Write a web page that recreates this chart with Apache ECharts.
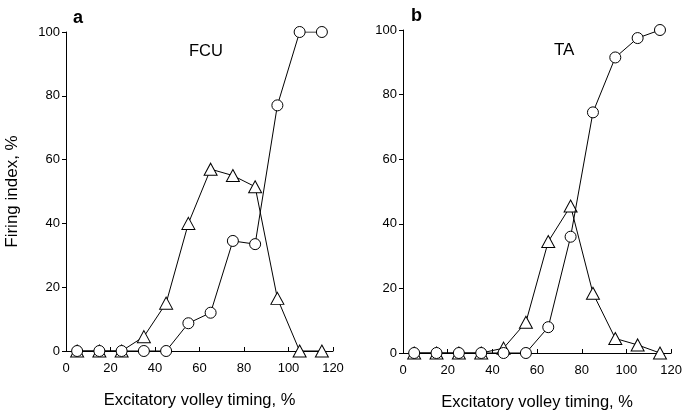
<!DOCTYPE html>
<html>
<head>
<meta charset="utf-8">
<script src="https://cdn.jsdelivr.net/npm/echarts@6/dist/echarts.min.js"></script>
<style>html,body{margin:0;padding:0;background:#fff}#c{width:685px;height:417px}</style>
</head>
<body>
<div id="c"></div>
<script>
var timing = [5, 15, 25, 35, 45, 55, 65, 75, 85, 95, 105, 115];
var fcuCircles = [0, 0, 0, 0, 0, 8.7, 12, 34.5, 33.5, 77, 100, 100];
var fcuTriangles = [0, 0, 0, 4.5, 15, 40, 57, 55, 51.5, 16.5, 0, 0];
var taCircles = [0, 0, 0, 0, 0, 0, 8, 36, 74.5, 91.5, 97.5, 100];
var taTriangles = [0, 0, 0, 0, 1.5, 9.5, 34.5, 45.5, 18.5, 4.5, 2.5, 0];
var xTicks = [0, 20, 40, 60, 80, 100, 120];
var yTicks = [0, 20, 40, 60, 80, 100];

function pairs(xs, ys) { return xs.map(function (x, i) { return [x, ys[i]]; }); }

var FONT = 'Liberation Sans, Arial, sans-serif';
var axisLine = { show: true, onZero: false, lineStyle: { color: '#000', width: 1 } };

function xAxis(idx) {
  return {
    type: 'value', gridIndex: idx, min: xTicks[0], max: xTicks[xTicks.length - 1], interval: 20,
    axisLine: axisLine,
    axisTick: { show: true, inside: true, length: 4, lineStyle: { color: '#000' } },
    axisLabel: { color: '#000', fontSize: 13, fontFamily: FONT, margin: 11 },
    splitLine: { show: false },
    name: 'Excitatory volley timing, %', nameLocation: 'middle', nameGap: 41,
    nameTextStyle: { color: '#000', fontSize: 16.5, fontFamily: FONT }
  };
}
function yAxis(idx, withName) {
  var a = {
    type: 'value', gridIndex: idx, min: yTicks[0], max: yTicks[yTicks.length - 1], interval: 20,
    axisLine: axisLine,
    axisTick: { show: true, inside: false, length: 4, lineStyle: { color: '#000' } },
    axisLabel: { color: '#000', fontSize: 13, fontFamily: FONT, margin: 6 },
    splitLine: { show: false }
  };
  if (withName) {
    a.name = 'Firing index, %'; a.nameLocation = 'middle'; a.nameGap = 45;
    a.nameTextStyle = { color: '#000', fontSize: 17, fontFamily: FONT };
  }
  return a;
}
function tri(idx, data) {
  return {
    type: 'line', xAxisIndex: idx, yAxisIndex: idx, data: pairs(timing, data),
    symbol: 'triangle', symbolSize: [13, 12], showAllSymbol: true,
    lineStyle: { color: '#000', width: 1 },
    itemStyle: { color: '#fff', borderColor: '#000', borderWidth: 1 },
    animation: false, z: 2
  };
}
function circ(idx, data) {
  return {
    type: 'line', xAxisIndex: idx, yAxisIndex: idx, data: pairs(timing, data),
    symbol: 'circle', symbolSize: 11, showAllSymbol: true,
    lineStyle: { color: '#000', width: 1 },
    itemStyle: { color: '#fff', borderColor: '#000', borderWidth: 1 },
    animation: false, z: 3
  };
}

var chart = echarts.init(document.getElementById('c'), null, { renderer: 'canvas' });
chart.setOption({
  backgroundColor: '#fff',
  animation: false,
  title: [
    { text: 'a', left: 68, top: 4, textStyle: { fontSize: 18, fontWeight: 'bold', color: '#000', fontFamily: FONT } },
    { text: 'b', left: 406, top: 2, textStyle: { fontSize: 18, fontWeight: 'bold', color: '#000', fontFamily: FONT } },
    { text: 'FCU', left: 184, top: 38, textStyle: { fontSize: 16.5, fontWeight: 'normal', color: '#000', fontFamily: FONT } },
    { text: 'TA', left: 549, top: 37, textStyle: { fontSize: 17, fontWeight: 'normal', color: '#000', fontFamily: FONT } }
  ],
  grid: [
    { left: 66, top: 32, width: 267, height: 319, containLabel: false },
    { left: 403, top: 30, width: 270, height: 323, containLabel: false }
  ],
  xAxis: [xAxis(0), xAxis(1)],
  yAxis: [yAxis(0, true), yAxis(1, false)],
  series: [tri(0, fcuTriangles), circ(0, fcuCircles), tri(1, taTriangles), circ(1, taCircles)]
});
</script>
</body>
</html>
